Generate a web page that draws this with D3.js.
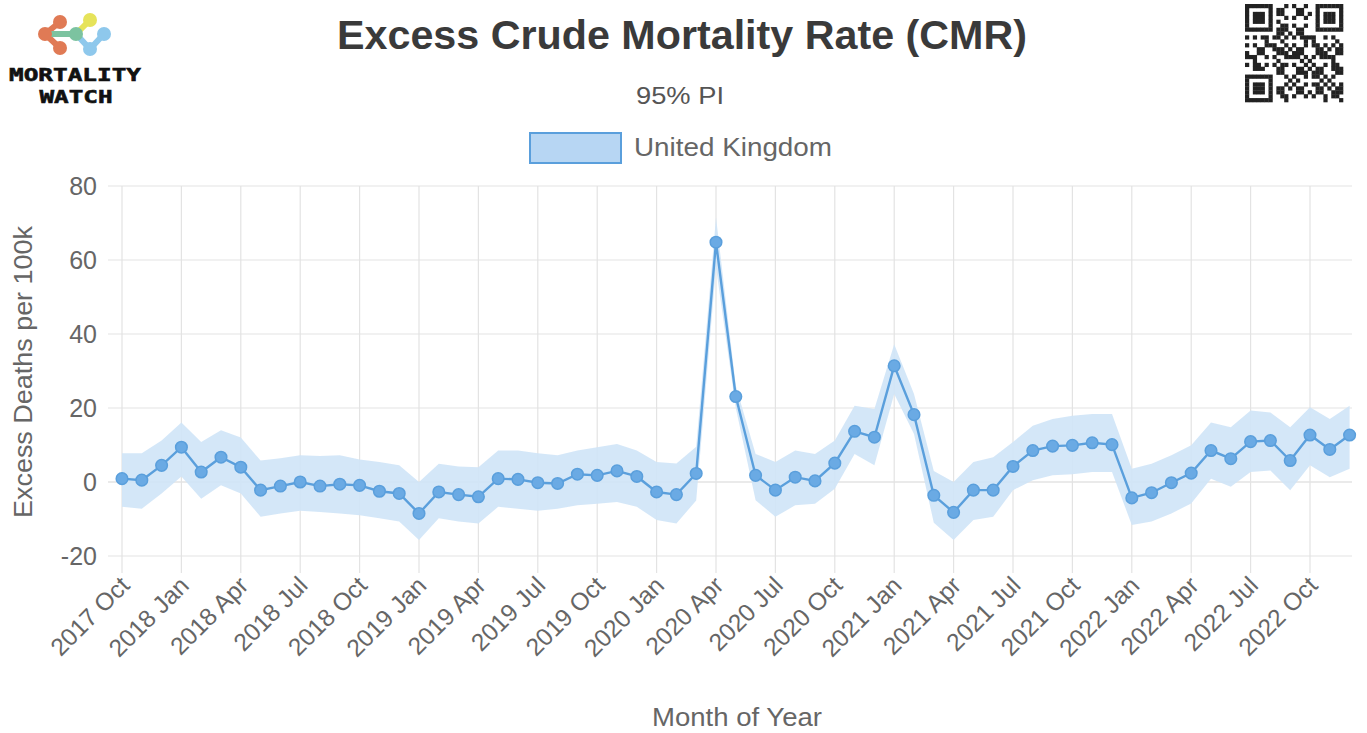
<!DOCTYPE html>
<html>
<head>
<meta charset="utf-8">
<script src="https://cdn.jsdelivr.net/npm/d3@7"></script>
<style>
  html, body { margin: 0; padding: 0; background: #fff; }
  svg { display: block; font-family: "Liberation Sans", Arial, Helvetica, sans-serif; }
</style>
</head>
<body>
<svg id="chart" width="1367" height="733"></svg>
<script>
// Monthly categories, Oct 2017 – Dec 2022
const months = [
  "2017 Oct","2017 Nov","2017 Dec",
  "2018 Jan","2018 Feb","2018 Mar","2018 Apr","2018 May","2018 Jun","2018 Jul","2018 Aug","2018 Sep","2018 Oct","2018 Nov","2018 Dec",
  "2019 Jan","2019 Feb","2019 Mar","2019 Apr","2019 May","2019 Jun","2019 Jul","2019 Aug","2019 Sep","2019 Oct","2019 Nov","2019 Dec",
  "2020 Jan","2020 Feb","2020 Mar","2020 Apr","2020 May","2020 Jun","2020 Jul","2020 Aug","2020 Sep","2020 Oct","2020 Nov","2020 Dec",
  "2021 Jan","2021 Feb","2021 Mar","2021 Apr","2021 May","2021 Jun","2021 Jul","2021 Aug","2021 Sep","2021 Oct","2021 Nov","2021 Dec",
  "2022 Jan","2022 Feb","2022 Mar","2022 Apr","2022 May","2022 Jun","2022 Jul","2022 Aug","2022 Sep","2022 Oct","2022 Nov","2022 Dec"
];

// Excess deaths per 100k (United Kingdom)
const excessCMR = [
  0.9, 0.5, 4.5,
  9.4, 2.7, 6.7, 4.0, -2.2, -1.1, 0.0, -1.1, -0.6, -0.9, -2.5, -3.1,
  -8.5, -2.7, -3.4, -4.0, 0.9, 0.7, -0.2, -0.4, 2.1, 1.8, 3.0, 1.5,
  -2.7, -3.4, 2.3, 64.8, 23.1, 1.8, -2.2, 1.3, 0.3, 5.1, 13.7, 12.1,
  31.4, 18.2, -3.6, -8.2, -2.2, -2.2, 4.2, 8.5, 9.7, 9.9, 10.6, 10.1,
  -4.3, -2.9, -0.2, 2.4, 8.5, 6.3, 10.9, 11.2, 5.8, 12.7, 8.8, 12.7
];

// 95% prediction interval bounds
const piUpper = [
  7.8, 7.8, 11.2,
  16.1, 10.8, 14.0, 12.0, 5.8, 6.4, 7.2, 7.0, 7.2, 6.1, 5.4, 4.5,
  0.0, 4.9, 4.2, 4.0, 8.5, 8.5, 7.8, 7.2, 8.5, 9.4, 10.3, 8.5,
  5.4, 5.0, 9.5, 71.5, 26.0, 7.6, 5.4, 8.5, 7.6, 11.2, 20.6, 19.7,
  37.2, 23.8, 3.0, 0.0, 5.4, 6.7, 10.8, 15.2, 17.0, 17.9, 18.4, 18.4,
  3.6, 4.9, 7.2, 9.9, 16.1, 14.8, 19.3, 18.8, 14.8, 20.2, 17.0, 20.6
];
const piLower = [
  -6.7, -7.2, -3.1,
  1.5, -4.5, -0.9, -3.1, -9.4, -8.5, -7.8, -8.1, -8.5, -9.0, -9.8, -10.7,
  -15.7, -9.8, -10.7, -11.2, -6.7, -7.2, -7.8, -7.2, -6.3, -5.9, -5.4, -6.7,
  -10.3, -11.2, -5.0, 58.0, 20.0, -4.9, -9.4, -6.3, -5.9, -1.8, 7.6, 4.5,
  23.8, 13.0, -11.0, -15.7, -10.3, -9.4, -2.2, 0.5, 1.8, 2.1, 2.7, 2.7,
  -11.6, -10.7, -8.5, -5.8, 0.9, -1.3, 2.7, 3.1, -2.2, 4.5, 1.3, 3.6
];

const yTicks = [-20, 0, 20, 40, 60, 80];
const xTickLabels = months.filter((m, i) => i % 3 === 0);

const data = months.map((m, i) => ({ m, v: excessCMR[i], lo: piLower[i], hi: piUpper[i] }));

const svg = d3.select("#chart");

const plot = { left: 122, right: 1352, top: 186, bottom: 556 };
const x = d3.scalePoint().domain(months).range([plot.left, 1349.6]);
const y = d3.scaleLinear().domain([-20, 80]).range([plot.bottom, plot.top]);

const gridColor = "#e3e3e3";
const textColor = "#666";
const lineColor = "#5a9fdc";

// Horizontal grid (extended left as tick marks)
svg.append("g").selectAll("line").data(yTicks).join("line")
  .attr("x1", 108).attr("x2", plot.right)
  .attr("y1", d => y(d)).attr("y2", d => y(d))
  .attr("stroke", d => d === 0 ? "#d6d6d6" : gridColor).attr("stroke-width", 1.2);

// Vertical grid on labelled months (extended down as tick marks)
svg.append("g").selectAll("line").data(xTickLabels).join("line")
  .attr("x1", d => x(d)).attr("x2", d => x(d))
  .attr("y1", plot.top).attr("y2", 573)
  .attr("stroke", gridColor).attr("stroke-width", 1.2);

// Y tick labels
svg.append("g").selectAll("text").data(yTicks).join("text")
  .attr("x", 97).attr("y", d => y(d))
  .attr("dy", "0.36em").attr("text-anchor", "end")
  .attr("font-size", 25).attr("fill", textColor)
  .text(d => d);

// X tick labels, rotated 45°
svg.append("g").selectAll("text").data(xTickLabels).join("text")
  .attr("text-anchor", "end")
  .attr("font-size", 24.5).attr("fill", textColor)
  .attr("transform", d => `translate(${x(d) + 9},${587}) rotate(-45)`)
  .text(d => d);

// Prediction-interval band
const band = d3.area()
  .x(d => x(d.m)).y0(d => y(d.lo)).y1(d => y(d.hi));
svg.append("path").datum(data)
  .attr("d", band)
  .attr("fill", "#cfe4f7").attr("fill-opacity", 0.9);

// Series line
const line = d3.line().x(d => x(d.m)).y(d => y(d.v));
svg.append("path").datum(data)
  .attr("d", line)
  .attr("fill", "none").attr("stroke", lineColor).attr("stroke-width", 2.4);

// Points
svg.append("g").selectAll("circle").data(data).join("circle")
  .attr("cx", d => x(d.m)).attr("cy", d => y(d.v)).attr("r", 5.8)
  .attr("fill", "#6aaae4").attr("stroke", lineColor).attr("stroke-width", 1.5);

// Axis titles
svg.append("text")
  .attr("transform", `translate(32,${372}) rotate(-90)`)
  .attr("text-anchor", "middle").attr("font-size", 25).attr("fill", textColor)
  .attr("textLength", 292).attr("lengthAdjust", "spacingAndGlyphs")
  .text("Excess Deaths per 100k");
svg.append("text")
  .attr("x", 737).attr("y", 726)
  .attr("text-anchor", "middle").attr("font-size", 25).attr("fill", textColor)
  .attr("textLength", 170).attr("lengthAdjust", "spacingAndGlyphs")
  .text("Month of Year");

// Title and subtitle
svg.append("text")
  .attr("x", 682).attr("y", 49)
  .attr("text-anchor", "middle").attr("font-size", 40).attr("font-weight", "bold")
  .attr("fill", "#3a3a3a")
  .attr("textLength", 690).attr("lengthAdjust", "spacingAndGlyphs")
  .text("Excess Crude Mortality Rate (CMR)");
svg.append("text")
  .attr("x", 680).attr("y", 104)
  .attr("text-anchor", "middle").attr("font-size", 24).attr("fill", "#555")
  .attr("textLength", 88).attr("lengthAdjust", "spacingAndGlyphs")
  .text("95% PI");

// Legend
svg.append("rect")
  .attr("x", 530).attr("y", 133).attr("width", 91).attr("height", 30)
  .attr("fill", "#b7d6f3").attr("stroke", lineColor).attr("stroke-width", 2);
svg.append("text")
  .attr("x", 634).attr("y", 156)
  .attr("font-size", 26).attr("fill", textColor)
  .attr("textLength", 198).attr("lengthAdjust", "spacingAndGlyphs")
  .text("United Kingdom");

// Logo mark
const logo = svg.append("g");
const nodes = [
  { x: 60, y: 22, c: "#e07a55" }, { x: 45, y: 34, c: "#e07a55" }, { x: 60, y: 48, c: "#e07a55" },
  { x: 76, y: 34, c: "#7cc3a0" }, { x: 90, y: 20, c: "#e6e35a" },
  { x: 104, y: 34, c: "#8ec8ec" }, { x: 90, y: 49, c: "#8ec8ec" }
];
const links = [[0, 1], [1, 2], [1, 3], [3, 4], [3, 6], [6, 5]];
logo.selectAll("line").data(links).join("line")
  .attr("x1", d => nodes[d[0]].x).attr("y1", d => nodes[d[0]].y)
  .attr("x2", d => nodes[d[1]].x).attr("y2", d => nodes[d[1]].y)
  .attr("stroke", d => nodes[d[1]].c).attr("stroke-width", 6);
logo.selectAll("circle").data(nodes).join("circle")
  .attr("cx", d => d.x).attr("cy", d => d.y).attr("r", 7).attr("fill", d => d.c);
logo.append("text").attr("x", 75).attr("y", 81).attr("text-anchor", "middle")
  .attr("font-family", "'DejaVu Sans Mono', monospace").attr("font-weight", "bold")
  .attr("font-size", 18).attr("textLength", 132).attr("lengthAdjust", "spacingAndGlyphs")
  .attr("stroke", "#111").attr("stroke-width", 0.6)
  .attr("fill", "#111").text("MORTALITY");
logo.append("text").attr("x", 76).attr("y", 103).attr("text-anchor", "middle")
  .attr("font-family", "'DejaVu Sans Mono', monospace").attr("font-weight", "bold")
  .attr("font-size", 18).attr("textLength", 73).attr("lengthAdjust", "spacingAndGlyphs")
  .attr("stroke", "#111").attr("stroke-width", 0.6)
  .attr("fill", "#111").text("WATCH");

// QR code block
const qr = svg.append("g").attr("transform", "translate(1245,4)");
const n = 25, s = 98 / n;
const cells = [];
function finder(r, c) {
  return (r < 7 && c < 7) || (r < 7 && c >= n - 7) || (r >= n - 7 && c < 7);
}
for (let r = 0; r < n; r++) {
  for (let c = 0; c < n; c++) {
    let on;
    if (finder(r, c)) {
      const rr = r < 7 ? r : r - (n - 7), cc = c < 7 ? c : c - (n - 7);
      on = rr === 0 || rr === 6 || cc === 0 || cc === 6 || (rr >= 2 && rr <= 4 && cc >= 2 && cc <= 4);
    } else if ((r === 7 && (c < 8 || c >= n - 8)) || (c === 7 && (r < 8 || r >= n - 8)) || (r === n - 8 && c < 8) || (c === n - 8 && r < 8)) {
      on = false;
    } else {
      on = ((r * 7 + c * 13 + r * c * 3) % 5) < 2 || ((r ^ c) % 3 === 0 && (r + c) % 2 === 0);
    }
    if (on) cells.push([r, c]);
  }
}
qr.selectAll("rect").data(cells).join("rect")
  .attr("x", d => d[1] * s).attr("y", d => d[0] * s)
  .attr("width", s + 0.3).attr("height", s + 0.3).attr("fill", "#222");
</script>
</body>
</html>
